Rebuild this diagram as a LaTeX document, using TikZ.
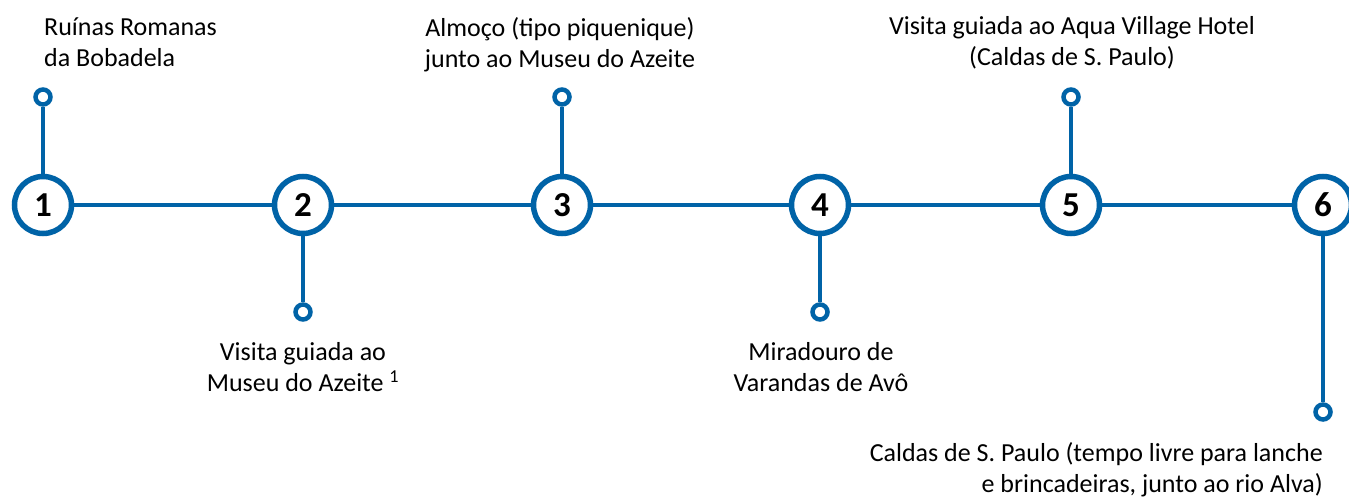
\documentclass[tikz,border=0pt]{standalone}
\usepackage{fontspec}
\setmainfont{Carlito}
\usetikzlibrary{positioning}
\definecolor{routecol}{RGB}{0,99,167}

\begin{document}
\begin{tikzpicture}[
  x=1pt, y=-1pt,
  every node/.style={font=\fontsize{26}{31}\selectfont},
  stop/.style={circle, draw=routecol, line width=5.5pt, fill=white, minimum size=57pt,
    inner sep=0pt, font=\fontsize{35}{35}\selectfont\bfseries},
  endpt/.style={circle, draw=routecol, line width=4.5pt, fill=white, minimum size=15pt, inner sep=0pt},
  link/.style={draw=routecol, line width=4.5pt},
  lab/.style={inner sep=0pt, align=center},
]
\useasboundingbox (0,0) rectangle (1349,497);
% stops along the route
\node[stop] (s1) at (43,205)   {1};
\node[stop] (s2) at (303,205)  {2};
\node[stop] (s3) at (562,205)  {3};
\node[stop] (s4) at (820,205)  {4};
\node[stop] (s5) at (1071,205) {5};
\node[stop] (s6) at (1323,205) {6};
% end points of the stems
\node[endpt] (e1) at (43,97)   {};
\node[endpt] (e2) at (303,312) {};
\node[endpt] (e3) at (562,97)  {};
\node[endpt] (e4) at (820,312) {};
\node[endpt] (e5) at (1071,97) {};
\node[endpt] (e6) at (1323,412) {};
% route and stems
\foreach \a/\b in {s1/s2, s2/s3, s3/s4, s4/s5, s5/s6}
  \draw[link] (\a) -- (\b);
\foreach \i in {1,...,6}
  \draw[link] (s\i) -- (e\i);
% labels
\node[lab, anchor=north west, align=left] (l1) at (44,18) {Ruínas Romanas\\da Bobadela};
\node[lab, anchor=north] (l2) at (303,342) {Visita guiada ao\\Museu do Azeite \textsuperscript{1}};
\node[lab, anchor=north] (l3) at (560,17) {Almoço (tipo piquenique)\\junto ao Museu do Azeite};
\node[lab, anchor=north] (l4) at (821,342) {Miradouro de\\Varandas de Avô};
\node[lab, anchor=north] (l5) at (1072,16) {Visita guiada ao Aqua Village Hotel\\(Caldas de S. Paulo)};
\node[lab, anchor=north east, align=right] (l6) at (1323,442) {Caldas de S. Paulo (tempo livre para lanche\\e brincadeiras, junto ao rio Alva)};
\end{tikzpicture}
\end{document}
